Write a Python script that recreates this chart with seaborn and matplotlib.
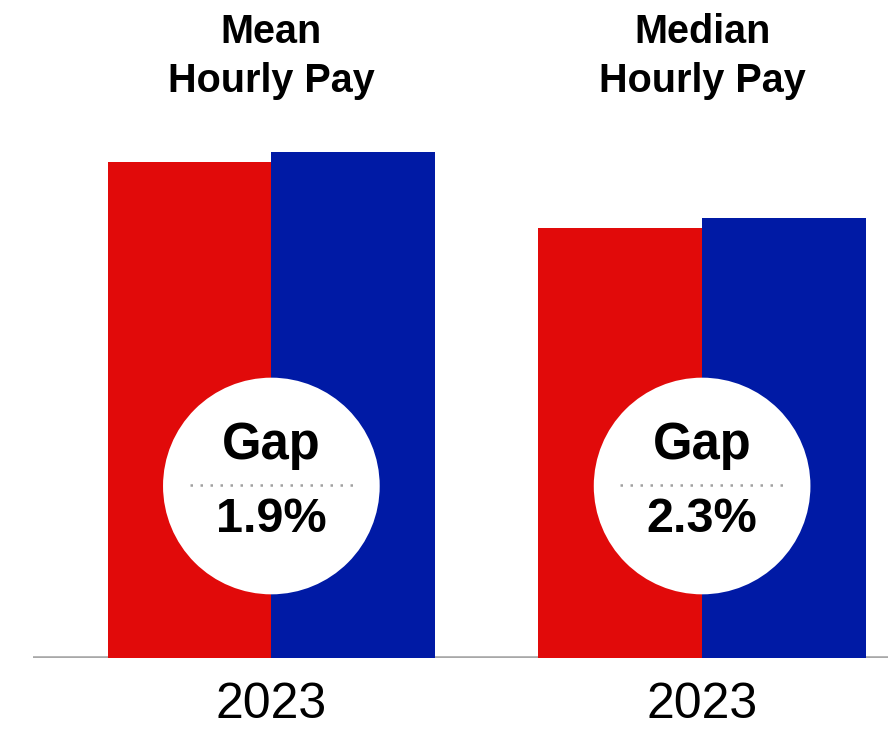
import matplotlib
matplotlib.use("Agg")
import matplotlib.pyplot as plt
import seaborn as sns
import pandas as pd

# Hourly pay figures (indexed values), women vs men
measures = ["Mean Hourly Pay", "Median Hourly Pay"]
title_lines = [["Mean", "Hourly Pay"], ["Median", "Hourly Pay"]]
years = ["2023", "2023"]
women = [98.1, 84.9]
men = [100.0, 86.9]

RED = "#E10A0A"
BLUE = "#001AA5"

df = pd.DataFrame({
    "measure": measures * 2,
    "group": ["Women"] * len(measures) + ["Men"] * len(measures),
    "pay": women + men,
})

sns.set_theme(style="white")
plt.rcParams["font.family"] = ["Liberation Sans", "DejaVu Sans"]

W, H = 888, 731
fig = plt.figure(figsize=(W / 100, H / 100), dpi=100)
base_px = 657.5
left_px = 33
ax = fig.add_axes([left_px / W, (H - base_px) / H, (W - left_px) / W, base_px / H])

sns.barplot(data=df, x="measure", y="pay", hue="group",
            hue_order=["Women", "Men"], palette={"Women": RED, "Men": BLUE},
            width=0.76, gap=0, saturation=1, legend=False, ax=ax,
            edgecolor="none", linewidth=0, zorder=2)

px_per_unit = (base_px - 152) / 100.0
ax.set_ylim(0, base_px / px_per_unit)
group_px = 431.0
ax.set_xlim(-(271.5 - left_px) / group_px, 1 + (W - 702) / group_px)

def y_of(px):
    return (base_px - px) / px_per_unit

for s in ax.spines.values():
    s.set_visible(False)
ax.axhline(0, color="#a8a8a8", lw=2.6, zorder=1)
ax.set_yticks([])
ax.set_xlabel("")
ax.set_ylabel("")
ax.set_xticks(range(len(years)))
ax.set_xticklabels(years, fontsize=36, color="black")
ax.tick_params(axis="x", length=0, pad=18)

for i in range(len(measures)):
    top, bottom = title_lines[i]
    ax.text(i, y_of(32), top, ha="center", va="center", fontsize=28.5,
            fontweight="bold", color="black")
    ax.text(i, y_of(81), bottom, ha="center", va="center", fontsize=28.5,
            fontweight="bold", color="black")

    gap = (men[i] - women[i]) / men[i] * 100
    ax.scatter([i], [y_of(486)], s=156 ** 2, color="white", edgecolors="none",
               zorder=4)
    ax.text(i, y_of(446), "Gap", ha="center", va="center", fontsize=36.5,
            fontweight="bold", color="black", zorder=5)
    ax.plot([i - 0.19, i + 0.19], [y_of(485)] * 2, color="#a0a0a0", lw=1.8,
            ls=(0, (1, 3)), zorder=5)
    ax.text(i, y_of(519), f"{gap:.1f}%", ha="center", va="center", fontsize=35,
            fontweight="bold", color="black", zorder=5)

fig.savefig("out.png", dpi=100)
